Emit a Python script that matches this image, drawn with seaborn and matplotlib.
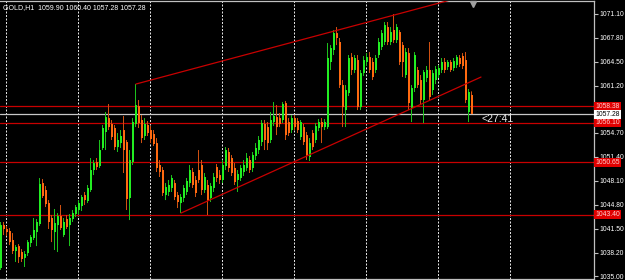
import numpy as np
import pandas as pd
import matplotlib
matplotlib.use("Agg")
import matplotlib.pyplot as plt
import seaborn as sns

# ---------------- data (GOLD, H1) ----------------
opens = [1036.10, 1042.01, 1041.47, 1041.19, 1039.95, 1038.44, 1039.12, 1038.30, 1037.49, 1038.16,
         1039.54, 1040.23, 1041.05, 1042.15, 1047.79, 1046.83, 1045.04, 1042.98, 1041.05, 1042.01,
         1043.25, 1040.64, 1042.84, 1042.01, 1042.84, 1043.53, 1044.08, 1044.63, 1046.14, 1045.32,
         1046.83, 1049.58, 1050.68, 1050.13, 1052.61, 1054.81, 1056.73, 1055.91, 1055.36, 1052.74,
         1053.29, 1055.08, 1053.43, 1045.73, 1050.68, 1055.91, 1058.38, 1056.46, 1054.26, 1055.77,
         1055.08, 1054.53, 1053.29, 1050.27, 1049.58, 1046.14, 1046.56, 1047.11, 1047.79, 1046.14,
         1045.04, 1045.73, 1046.56, 1047.79, 1049.31, 1048.21, 1049.58, 1050.27, 1046.83, 1047.52,
         1045.73, 1047.11, 1049.99, 1048.89, 1048.21, 1050.13, 1052.06, 1051.23, 1049.86, 1048.21,
         1048.48, 1049.31, 1049.86, 1050.96, 1049.86, 1051.51, 1052.33, 1053.43, 1055.91, 1055.49,
         1053.71, 1056.18, 1056.87, 1056.73, 1056.46, 1058.79, 1056.18, 1055.08, 1056.73, 1056.32,
         1054.12, 1055.49, 1054.39, 1051.37, 1054.67, 1053.71, 1055.36, 1056.18, 1055.49, 1055.49,
         1064.44, 1066.09, 1068.42, 1067.19, 1061.27, 1057.83, 1060.17, 1065.12, 1063.34, 1064.71,
         1058.24, 1062.92, 1064.44, 1065.12, 1064.44, 1063.34, 1065.40, 1066.50, 1067.19, 1069.25,
         1067.19, 1068.84, 1067.46, 1068.56, 1066.77, 1062.65, 1065.67, 1058.11, 1060.86, 1063.34,
         1061.96, 1059.21, 1062.24, 1063.34, 1060.58, 1061.96, 1062.65, 1063.34, 1064.44, 1063.75,
         1064.44, 1063.61, 1064.02, 1064.99, 1065.26, 1064.71, 1057.56, 1059.90]
highs = [1042.43, 1042.43, 1041.88, 1041.60, 1040.91, 1039.26, 1039.40, 1038.71, 1038.44, 1039.95,
         1040.64, 1042.98, 1042.84, 1048.48, 1048.34, 1047.38, 1045.45, 1043.39, 1044.22, 1043.66,
         1044.77, 1042.98, 1043.39, 1043.53, 1044.08, 1044.77, 1045.45, 1046.14, 1046.56, 1047.52,
         1051.23, 1050.96, 1051.23, 1053.71, 1055.77, 1057.56, 1058.66, 1056.46, 1055.77, 1054.67,
         1055.08, 1057.01, 1053.71, 1052.33, 1056.73, 1061.41, 1059.21, 1057.14, 1056.73, 1056.32,
         1055.63, 1055.08, 1053.98, 1050.96, 1049.99, 1047.79, 1048.21, 1048.89, 1048.21, 1046.56,
         1046.28, 1047.52, 1048.48, 1050.27, 1049.86, 1048.76, 1052.33, 1050.96, 1049.17, 1048.21,
         1047.79, 1049.17, 1050.41, 1049.58, 1050.96, 1052.74, 1052.61, 1051.64, 1050.54, 1049.58,
         1050.27, 1050.96, 1051.92, 1051.51, 1052.06, 1053.29, 1054.26, 1056.46, 1056.46, 1056.18,
         1057.56, 1058.93, 1058.52, 1057.42, 1058.93, 1059.07, 1056.73, 1057.14, 1057.14, 1056.73,
         1056.46, 1055.91, 1054.81, 1053.98, 1055.08, 1056.04, 1056.59, 1056.73, 1056.59, 1067.05,
         1066.77, 1068.84, 1069.25, 1067.74, 1061.96, 1061.27, 1065.40, 1065.67, 1065.40, 1065.40,
         1063.34, 1065.26, 1065.67, 1065.81, 1064.99, 1065.40, 1067.74, 1068.84, 1069.94, 1069.94,
         1069.25, 1071.04, 1069.66, 1068.84, 1067.19, 1066.36, 1066.36, 1061.27, 1065.81, 1063.75,
         1062.65, 1063.34, 1063.89, 1067.19, 1063.34, 1063.89, 1064.02, 1064.99, 1064.99, 1064.71,
         1064.71, 1064.99, 1065.40, 1065.40, 1065.67, 1065.81, 1060.72, 1060.40]
lows = [1035.83, 1040.64, 1040.50, 1039.26, 1038.03, 1036.93, 1036.79, 1036.93, 1036.24, 1037.75,
        1038.99, 1039.95, 1039.12, 1041.88, 1045.73, 1044.49, 1041.47, 1039.67, 1038.58, 1038.30,
        1041.33, 1040.36, 1041.47, 1039.12, 1042.43, 1043.11, 1043.53, 1043.94, 1044.77, 1045.04,
        1046.56, 1048.89, 1049.58, 1049.86, 1052.33, 1052.33, 1055.08, 1053.71, 1052.33, 1052.06,
        1052.61, 1049.17, 1044.08, 1042.70, 1050.27, 1055.49, 1055.36, 1053.29, 1053.71, 1054.26,
        1053.29, 1052.88, 1049.31, 1048.62, 1046.01, 1045.45, 1046.01, 1046.56, 1045.45, 1044.35,
        1043.66, 1045.18, 1046.14, 1047.24, 1047.11, 1045.87, 1047.79, 1046.14, 1046.42, 1043.39,
        1045.18, 1046.56, 1047.93, 1047.66, 1047.79, 1049.58, 1049.31, 1048.76, 1047.52, 1046.56,
        1048.07, 1048.76, 1049.44, 1049.17, 1049.31, 1050.96, 1051.78, 1052.88, 1052.33, 1052.33,
        1053.29, 1055.63, 1054.39, 1055.49, 1056.04, 1053.71, 1054.26, 1054.67, 1055.08, 1054.67,
        1053.71, 1053.02, 1050.96, 1050.82, 1052.33, 1053.29, 1054.94, 1053.29, 1055.08, 1055.22,
        1063.34, 1065.40, 1066.77, 1060.86, 1055.49, 1055.49, 1059.76, 1062.65, 1062.92, 1057.83,
        1057.83, 1062.51, 1063.89, 1062.92, 1061.96, 1062.92, 1064.99, 1066.09, 1066.77, 1066.77,
        1066.77, 1067.05, 1067.05, 1064.02, 1062.37, 1062.24, 1057.83, 1056.18, 1060.31, 1060.86,
        1058.52, 1056.04, 1061.68, 1059.21, 1059.90, 1061.41, 1062.24, 1062.92, 1062.92, 1063.34,
        1063.06, 1063.20, 1063.61, 1063.75, 1063.47, 1058.79, 1056.18, 1057.28]
closes = [1042.01, 1041.47, 1041.05, 1039.67, 1038.44, 1038.99, 1037.61, 1037.34, 1038.03, 1039.67,
          1040.36, 1041.33, 1042.43, 1047.66, 1046.01, 1044.90, 1042.43, 1041.33, 1042.29, 1043.25,
          1041.60, 1042.43, 1041.74, 1042.98, 1043.66, 1044.49, 1045.04, 1045.87, 1045.45, 1047.11,
          1049.58, 1050.54, 1049.99, 1052.33, 1055.36, 1056.87, 1055.49, 1054.12, 1052.74, 1053.71,
          1054.26, 1052.33, 1045.59, 1050.96, 1056.18, 1058.52, 1056.04, 1053.98, 1055.91, 1054.67,
          1053.84, 1053.16, 1049.86, 1049.31, 1046.42, 1047.24, 1047.52, 1048.48, 1045.87, 1045.18,
          1045.87, 1047.11, 1048.07, 1049.58, 1047.52, 1046.42, 1048.21, 1046.83, 1048.62, 1045.45,
          1047.38, 1048.62, 1048.48, 1048.21, 1050.27, 1052.33, 1049.86, 1049.17, 1047.93, 1049.03,
          1049.86, 1050.27, 1051.23, 1049.58, 1051.64, 1052.61, 1053.71, 1056.04, 1053.71, 1053.29,
          1056.46, 1057.01, 1055.49, 1055.91, 1058.66, 1054.39, 1054.67, 1056.73, 1055.49, 1055.08,
          1056.18, 1053.43, 1051.64, 1053.29, 1052.74, 1055.63, 1056.18, 1055.49, 1056.18, 1064.99,
          1066.36, 1068.42, 1067.74, 1061.27, 1058.24, 1060.58, 1064.99, 1063.34, 1064.99, 1058.24,
          1062.92, 1064.71, 1065.12, 1063.34, 1062.37, 1064.99, 1067.19, 1068.42, 1069.52, 1067.19,
          1068.56, 1067.46, 1069.25, 1064.44, 1064.44, 1065.81, 1058.79, 1060.86, 1065.40, 1061.27,
          1059.21, 1063.06, 1063.34, 1059.62, 1062.92, 1063.47, 1063.61, 1064.44, 1063.34, 1064.44,
          1063.34, 1064.57, 1065.12, 1064.16, 1063.89, 1059.21, 1060.31, 1057.28]

level_prices = [1058.38, 1056.10, 1050.65, 1043.40]
bid_price = 1057.28
tick_values = [1071.10, 1067.80, 1064.50, 1061.20, 1054.70, 1051.40, 1048.10,
               1044.80, 1041.50, 1038.20, 1035.00]
upper_trend_idx = [45, 147.3, 160]
upper_trend_px = [1061.41, 1072.69, 1074.12]
lower_trend_idx = [60, 160]
lower_trend_px = [1043.66, 1062.37]
grid_idx = [1.83, 25.83, 49.83, 73.83, 97.83, 121.83, 145.83, 169.83]
title_text = "GOLD,H1  1059.90 1060.40 1057.28 1057.28"
timer_text = "<27:41"

# ---------------- styling ----------------
sns.set_theme(style="dark", rc={"axes.facecolor": "black", "figure.facecolor": "black"})
plt.rcParams["font.family"] = ["Liberation Sans", "DejaVu Sans"]

df = pd.DataFrame({"open": opens, "high": highs, "low": lows, "close": closes})
df["idx"] = np.arange(len(df))
df["up"] = df["close"] >= df["open"]

BULL, BEAR = "#22ee22", "#ff6a10"
BULL_W, BEAR_W = "#1cc01c", "#d05010"
LEVEL = "#c80000"

fig = plt.figure(figsize=(6.25, 2.8), dpi=100, facecolor="black")
ax = fig.add_axes([0, 1 / 280, 594 / 625, 278 / 280])
ax.set_facecolor("black")

# grid (vertical dotted)
for g in grid_idx:
    ax.axvline(g, color="#e0e0e0", lw=0.72, ls=(0, (2, 1.5)), zorder=1)

# levels
for p in level_prices:
    ax.axhline(p, color=LEVEL, lw=0.9, zorder=2)
ax.axhline(bid_price, color="#c8c8c8", lw=0.9, zorder=2)

# candles: 2 px bodies on a 3 px pitch, 1 px wick at the left body column
wick_cols = np.where(df["up"], BULL_W, BEAR_W)
body_cols = np.where(df["up"], BULL, BEAR)
ax.vlines(df["idx"] - 1 / 6, df["low"], df["high"], colors=wick_cols, lw=0.72,
          zorder=3, snap=False)
body_bottom = np.minimum(df["open"], df["close"])
body_h = np.maximum(np.abs(df["close"] - df["open"]), 0.14)
ax.bar(df["idx"], body_h, bottom=body_bottom, width=2 / 3, color=body_cols,
       linewidth=0, zorder=4, snap=False)

# trendlines
ax.plot(upper_trend_idx, upper_trend_px, color=LEVEL, lw=0.9, zorder=5)
ax.plot(lower_trend_idx, lower_trend_px, color=LEVEL, lw=0.9, zorder=5)

ax.set_xlim(-1 / 3, 197 + 2 / 3)
ax.set_ylim(1034.59, 1072.83)

# axes frame
ax.spines["left"].set_visible(False)
for s in ["top", "bottom", "right"]:
    ax.spines[s].set_visible(True)
    ax.spines[s].set_color("#c0c0c0")
    ax.spines[s].set_linewidth(0.9)

ax.set_xticks([])
ax.yaxis.tick_right()
ax.set_yticks(tick_values)
ax.set_yticklabels([f"{v:.2f}" for v in tick_values])
ax.tick_params(axis="y", colors="#c0c0c0", labelcolor="white", labelsize=4.9,
               length=3, width=0.8, direction="out", pad=0.6, right=True, left=False)
ax.grid(False)

# price tags on the right axis
ytr = ax.get_yaxis_transform()
for p in level_prices:
    ax.text(1.0025, p, f"{p:.2f}", transform=ytr, ha="left", va="center",
            fontsize=4.9, color="#ffd0d0", clip_on=False, zorder=10,
            bbox=dict(boxstyle="square,pad=0.15", fc="#e00000", ec="none"))
ax.text(1.0025, bid_price, f"{bid_price:.2f}", transform=ytr, ha="left", va="center",
        fontsize=4.9, color="black", clip_on=False, zorder=10,
        bbox=dict(boxstyle="square,pad=0.15", fc="white", ec="none"))

# title and countdown
ax.text(3 / 594, 0.978, title_text, transform=ax.transAxes, ha="left", va="center",
        fontsize=5.0, color="white", zorder=10)
ax.text(482 / 594, bid_price - 0.05, timer_text, transform=ytr, ha="left", va="top",
        fontsize=7.5, color="#e8e8e8", zorder=10)

# chart shift marker
ax.plot([473 / 594], [0.988], marker="v", ms=4, color="#a0a0a0", transform=ax.transAxes,
        clip_on=False, zorder=10)

fig.savefig("out.png", dpi=100, facecolor="black")
